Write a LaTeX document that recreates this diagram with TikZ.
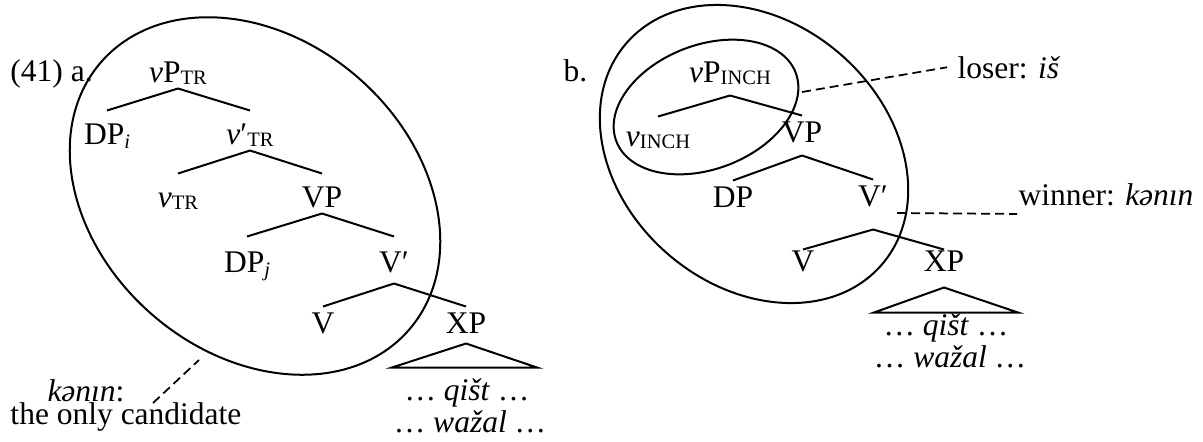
\documentclass[tikz,border=0pt]{standalone}
\usepackage{fontspec}
\setmainfont{Liberation Serif}[
  UprightFont={Liberation Serif},
  ItalicFont={Liberation Serif Italic},
  BoldFont={Liberation Serif Bold}]
\usepackage{tikz}
\newcommand{\lowtag}[2][0.8pt]{\raisebox{-#1}{\fontsize{8.2}{9}\selectfont #2}}

\begin{document}
\begin{tikzpicture}[
  x=0.4pt,
  y=-0.4pt,
  font=\fontsize{12.6}{15}\selectfont,
  phrase/.style={
    inner sep=0pt,anchor=base,text height=13.2pt,text depth=2.4pt
  },
  phraseb/.style={
    inner sep=0pt,anchor=base,text height=10.4pt,text depth=5.2pt
  },
  plain/.style={inner sep=0pt,anchor=base west},
  gloss/.style={inner sep=0pt,anchor=base},
  branch/.style={line width=0.8pt},
  hull/.style={line width=0.8pt},
  pointer/.style={line width=0.7pt,dash pattern=on 3.6pt off 2pt}
]
  \useasboundingbox (0,0) rectangle (1203,441);

  % (41) a.
  \node[plain] (a-num) at (10,81) {(41) a.};
  \node[phrase] (a-vp) at (178,82) {\textit{v}P\lowtag{TR}};
  \node[phrase] (a-dpi) at (107,144) {DP\lowtag[1.6pt]{\textit{i}}};
  \node[phrase] (a-vbar) at (250,144) {\textit{v}′\lowtag{TR}};
  \node[phrase] (a-v) at (178,207) {\textit{v}\lowtag{TR}};
  \node[phrase] (a-vpl) at (322,207) {VP};
  \node[phrase,text height=14pt] (a-dpj) at (247,272) {DP\lowtag[1.6pt]{\textit{j}}};
  \node[phrase,text height=14pt,text depth=4.4pt] (a-vbar2) at (394,272) {V′};
  \node[phrase,text height=10.4pt] (a-verb) at (323,333) {V};
  \node[phrase,text height=10.4pt,text depth=4pt] (a-xp) at (466,333) {XP};
  \draw[branch] (a-vp.south) -- (a-dpi.north);
  \draw[branch] (a-vp.south) -- (a-vbar.north);
  \draw[branch] (a-vbar.south) -- (a-v.north);
  \draw[branch] (a-vbar.south) -- (a-vpl.north);
  \draw[branch] (a-vpl.south) -- (a-dpj.north);
  \draw[branch] (a-vpl.south) -- (a-vbar2.north);
  \draw[branch] (a-vbar2.south) -- (a-verb.north);
  \draw[branch] (a-vbar2.south) -- (a-xp.north);
  \draw[branch] (a-xp.south) -- ++(-74,24) -- ++(145,0) -- cycle;
  \node[gloss] (a-qist) at (467,400) {… \textit{qišt} …};
  \node[gloss] (a-wazal) at (470,432) {… \textit{wažal} …};
  \draw[hull,rotate around={-41:(255,196)}] (255,196) ellipse [x radius=204,y radius=157];
  \node[plain] (a-kenin) at (47,401) {\textit{kənın}:};
  \node[plain] (a-only) at (10,424) {the only candidate};
  \coordinate (a-foot) at (153,403);
  \coordinate (a-tip) at (199,360);
  \draw[pointer] (a-foot) -- (a-tip);

  % b.
  \node[plain] (b-num) at (563,81) {b.};
  \node[phraseb] (b-vp) at (730,82) {\textit{v}P\lowtag{INCH}};
  \node[phraseb,text height=11.6pt] (b-vinch) at (658,146) {\textit{v}\lowtag{INCH}};
  \node[phraseb] (b-vpl) at (802,142) {VP};
  \node[phraseb] (b-dp) at (733,207) {DP};
  \node[phraseb,text depth=9.2pt] (b-vbar) at (873,206) {V′};
  \node[phraseb,text height=8.4pt] (b-verb) at (803,271) {V};
  \node[phraseb,text height=8.4pt,text depth=6.4pt] (b-xp) at (944,271) {XP};
  \draw[branch] (b-vp.south) -- (b-vinch.north);
  \draw[branch] (b-vp.south) -- (b-vpl.north);
  \draw[branch] (b-vpl.south) -- (b-dp.north);
  \draw[branch] (b-vpl.south) -- (b-vbar.north);
  \draw[branch] (b-vbar.south) -- (b-verb.north);
  \draw[branch] (b-vbar.south) -- (b-xp.north);
  \draw[branch] (b-xp.south) -- ++(-70,25) -- ++(144,0) -- cycle;
  \node[gloss] (b-qist) at (946,335) {… \textit{qišt} …};
  \node[gloss] (b-wazal) at (950,367) {… \textit{wažal} …};
  \draw[hull,rotate around={-41:(754,154)}] (754,154) ellipse [x radius=169,y radius=132];
  \draw[hull,rotate around={21:(706,107)}] (706,107) ellipse [x radius=96,y radius=62];
  \node[plain,inner xsep=4pt] (b-loser) at (947,78) {loser: \textit{iš}};
  \node[plain,inner xsep=0.4pt,inner ysep=3.2pt] (b-winner) at (1017,205) {winner: \textit{kənın}};
  \coordinate (b-lose-tip) at (802,92);
  \coordinate (b-win-tip) at (897,213);
  \draw[pointer] (b-lose-tip) -- (b-loser.west);
  \draw[pointer] (b-win-tip) -- (b-winner.south west);
\end{tikzpicture}
\end{document}
